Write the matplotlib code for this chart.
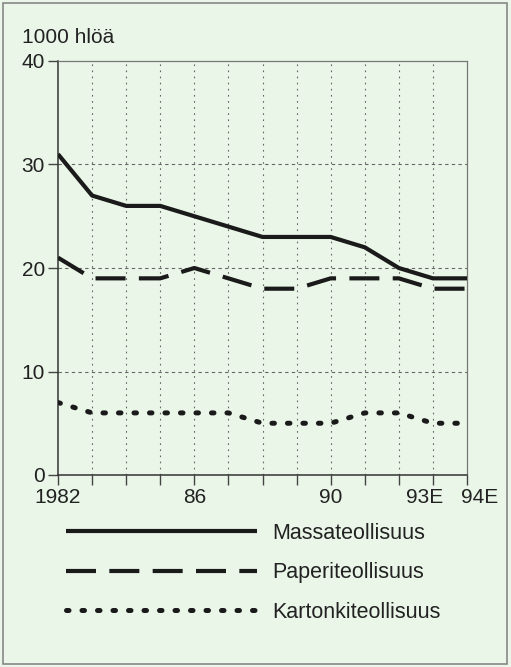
import matplotlib.pyplot as plt
from matplotlib.patches import Rectangle
from matplotlib.transforms import ScaledTranslation

plt.rcParams['font.family'] = ['Liberation Sans', 'DejaVu Sans']

# data (1000 persons)
years = [1982, 1983, 1984, 1985, 1986, 1987, 1988, 1989, 1990, 1991, 1992, 1993, 1994]
massa = [31, 27, 26, 26, 25, 24, 23, 23, 23, 22, 20, 19, 19]
paperi = [21, 19, 19, 19, 20, 19, 18, 18, 19, 19, 19, 18, 18]
kartonki = [7, 6, 6, 6, 6, 6, 5, 5, 5, 6, 6, 5, 5]
labels = ["Massateollisuus", "Paperiteollisuus", "Kartonkiteollisuus"]
xtick_labels = {1982: "1982", 1986: "86", 1990: "90", 1993: "93E", 1994: "94E"}
yticks = [0, 10, 20, 30, 40]

bg = '#eaf6e8'
W, H = 511, 667
fig = plt.figure(figsize=(W / 100, H / 100), dpi=100, facecolor=bg)
ax = fig.add_axes([58 / W, 1 - 475 / H, (467 - 58) / W, (475 - 61) / H])
ax.set_facecolor(bg)

ink = '#1a1a1a'
l1, = ax.plot(years, massa, color=ink, lw=3.0, solid_capstyle='butt', zorder=3)
l2, = ax.plot(years, paperi, color=ink, lw=3.0, dashes=(7.2, 3.2), dash_capstyle='butt', zorder=3)
l3, = ax.plot(years, kartonki, color=ink, lw=3.6, dashes=(0.5, 2.6), dash_capstyle='round', zorder=3)

ax.set_xlim(1982, 1994)
ax.set_ylim(0, 40)
ax.set_xticks(years)
ax.set_xticklabels([xtick_labels.get(y, "") for y in years])
ax.set_yticks(yticks)
ax.tick_params(axis='both', direction='out', length=7, width=1, color='#444444',
               labelsize=15, labelcolor='#222222', pad=2.5)

# grid: dashed horizontals, dotted verticals
for yv in [10, 20, 30]:
    ax.axhline(yv, color='#666666', lw=0.8, dashes=(3, 3), zorder=1)
for xv in years[1:-1]:
    ax.axvline(xv, color='#666666', lw=0.8, dashes=(1.5, 4), zorder=1)

for s in ['left', 'bottom']:
    ax.spines[s].set_color('#333333')
    ax.spines[s].set_linewidth(1.1)
for s in ['top', 'right']:
    ax.spines[s].set_color('#777777')
    ax.spines[s].set_linewidth(0.9)

# the E-labels sit a little off their ticks in the original
lab = ax.get_xticklabels()
lab[-1].set_transform(lab[-1].get_transform() + ScaledTranslation(9.4 / 72, 0, fig.dpi_scale_trans))
lab[-2].set_transform(lab[-2].get_transform() + ScaledTranslation(-6 / 72, 0, fig.dpi_scale_trans))

fig.text(22 / W, 1 - 43 / H, "1000 hlöä", fontsize=15, color='#222222', ha='left', va='baseline')

leg = fig.legend([l1, l2, l3], labels, loc='upper left', bbox_to_anchor=(57 / W, 1 - 514 / H),
                 frameon=False, fontsize=15.5, handlelength=8.9, handletextpad=0.7,
                 labelspacing=0.86, borderaxespad=0)
for t in leg.get_texts():
    t.set_color('#222222')

fig.add_artist(Rectangle((3 / W, 3 / H), 504 / W, 661 / H, transform=fig.transFigure,
                         fill=False, edgecolor='#888888', lw=1.2))

fig.savefig('out.png', dpi=100, facecolor=bg)
